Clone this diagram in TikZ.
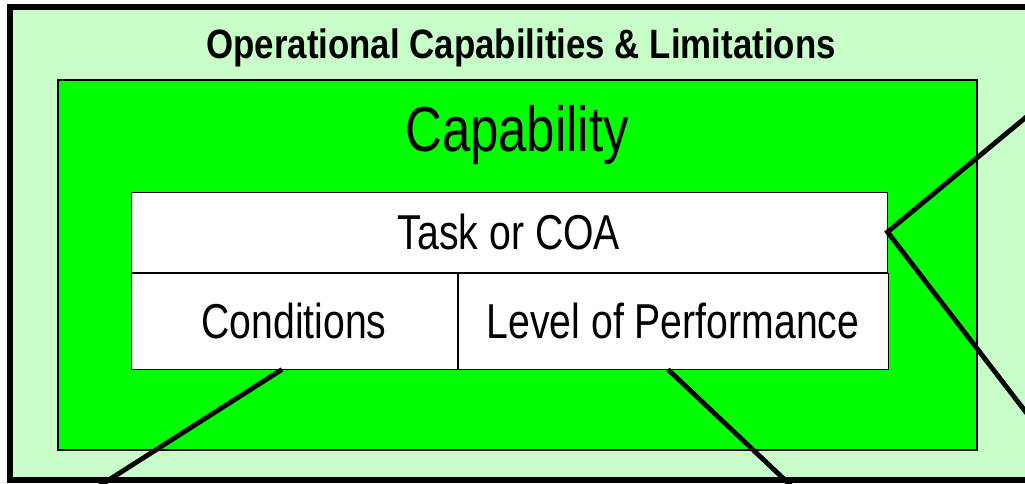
\documentclass[tikz,border=0pt]{standalone}
\usepackage{fontspec}
\setmainfont{Liberation Sans}
\newfontfamily\narrowfont[FakeStretch=0.8]{Liberation Sans}
\newfontfamily\titlefont[FakeStretch=0.85]{Liberation Sans}
\usetikzlibrary{positioning}
\definecolor{palegreen}{RGB}{200,255,200}
\definecolor{capgreen}{RGB}{0,255,0}
\tikzstyle{outerbox} = [draw, line width=3pt, fill=palegreen]
\tikzstyle{capbox} = [draw, line width=0.6pt, fill=capgreen]
\tikzstyle{cell} = [draw, rectangle, fill=white, inner sep=0pt, line width=0.5pt, font=\narrowfont\fontsize{24.5}{28}\selectfont]
\tikzstyle{leader} = [line width=2.4pt]

\begin{document}
\begin{tikzpicture}[x=0.5pt,y=-0.5pt,node distance=0pt]
\useasboundingbox (0,0) rectangle (1025,483);
\clip (0,0) rectangle (1025,483);
\draw [outerbox] (10,7) rectangle (1060,480);
\draw [capbox] (58,80) rectangle (977,450);
\node [anchor=base, font=\titlefont\bfseries\fontsize{20.5}{24}\selectfont] (title) at (521,58) {Operational Capabilities \& Limitations};
\node [anchor=base, font=\narrowfont\fontsize{31.8}{36}\selectfont] (cap) at (517,151) {Capability};
\node [cell, minimum width=378pt, minimum height=40pt] (task) at (509,232) {Task or COA};
\node [cell, minimum width=163pt, minimum height=48pt, below right=0pt and 0pt of task.south west] (cond) {Conditions};
\node [cell, minimum width=215pt, minimum height=48pt, right=0pt of cond] (perf) {Level of Performance};
\coordinate (condfoot) at (82,497);
\coordinate (perffoot) at (803,497);
\coordinate (upfar) at (1045,101.5);
\coordinate (downfar) at (1045,437);

\draw [leader] ([xshift=-6pt]cond.south) -- (condfoot);
\draw [leader] ([xshift=-2.5pt]perf.south) -- (perffoot);
\draw [leader] (upfar) -- (task.east) -- (downfar);
\end{tikzpicture}
\end{document}
